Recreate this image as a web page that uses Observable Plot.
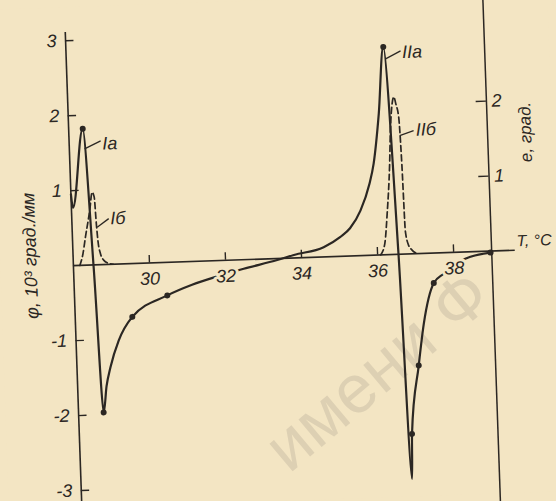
<!DOCTYPE html>
<html>
<head>
<meta charset="utf-8">
<script src="https://cdn.jsdelivr.net/npm/d3@7"></script>
<script src="https://cdn.jsdelivr.net/npm/@observablehq/plot@0.6"></script>
<style>
  html, body { margin: 0; padding: 0; background: #f3e5c3; overflow: hidden; }
  #chart svg { display: block; transform: rotate(-2deg); transform-origin: 278px 250px; }
</style>
</head>
<body>
<div id="chart"></div>
<script>
// ---- Data ----
// Solid curve (Ia → IIa): temperature T, °C and φ, 10^3 град./мм
const solidT   = [28.00, 28.04, 28.37, 28.53, 28.66, 28.76, 28.88, 29.12, 29.50, 30.44, 31.10, 31.77, 32.47, 33.36, 33.80, 34.59, 35.04, 35.30, 35.59, 35.85, 35.98, 36.16, 36.34, 36.55, 36.70, 36.74, 36.98, 37.15, 37.45, 37.72, 38.30, 38.97];
const solidPhi = [0.95, 0.77, 1.82, -0.03, -1.97, -1.62, -1.37, -1.02, -0.71, -0.44, -0.31, -0.21, -0.12, -0.02, 0.04, 0.13, 0.26, 0.37, 0.60, 0.95, 1.22, 1.88, 2.77, 0.00, -3.00, -2.40, -1.49, -0.94, -0.40, -0.28, -0.09, -0.02];
// measured points (dots) on the solid curve
const dotT   = [28.37, 28.66, 29.50, 30.44, 36.34, 36.74, 36.98, 37.45, 38.97];
const dotPhi = [1.82, -1.97, -0.71, -0.44, 2.77, -2.40, -1.49, -0.40, -0.02];
// Dashed curve Iб: T and e, град.
const ibT = [28.17, 28.26, 28.34, 28.48, 28.56, 28.61, 28.64, 28.67, 28.72, 28.80, 28.95, 29.05];
const ibE = [0.00, 0.15, 0.37, 0.73, 0.97, 0.90, 0.55, 0.30, 0.15, 0.06, 0.01, 0.00];
// Dashed curve IIб: T and e, град.
const iibT = [36.08, 36.20, 36.29, 36.40, 36.45, 36.52, 36.57, 36.62, 36.68, 36.72, 36.75, 36.82, 36.91, 37.07];
const iibE = [0.00, 0.15, 0.55, 1.21, 1.65, 2.01, 2.10, 2.00, 1.83, 1.20, 0.31, 0.12, 0.05, 0.00];
// Ticks
const xTicks = [30, 32, 34, 36, 38];
const phiTicks = [-3, -2, -1, 1, 2, 3];
const eTicks = [1, 2];
// Curve labels (anchor in data coords) and leader lines
const curveNames = ["Ia", "Iб", "IIa", "IIб"];
const nameT   = [28.87, 29.01, 36.83, 37.12];
const namePhi = [1.61, 0.61, 2.69, 1.65];
const leadT1 = [28.40, 28.66, 36.39, 36.69];
const leadV1 = [1.55, 0.50, 2.61, 1.58];
const leadT2 = [28.83, 28.97, 36.79, 37.06];
const leadV2 = [1.65, 0.61, 2.71, 1.64];
// Axis titles
const phiTitle = "φ, 10³ град./мм";
const eTitle = "e, град.";
const tTitle = "T, °C";
const stamp = "имени Ф";

// ---- Build tables ----
const paper = "#f3e5c3";
const ink = "#2b2723";
const solid = solidT.map((t, i) => ({T: t, v: solidPhi[i]}));
const dots = dotT.map((t, i) => ({T: t, v: dotPhi[i]}));
const ib = ibT.map((t, i) => ({T: t, v: ibE[i]}));
const iib = iibT.map((t, i) => ({T: t, v: iibE[i]}));
const names = curveNames.map((s, i) => ({s, T: nameT[i], v: namePhi[i]}));
const leads = curveNames.map((s, i) => ({x1: leadT1[i], y1: leadV1[i], x2: leadT2[i], y2: leadV2[i]}));

const font = "Liberation Sans, Arial, sans-serif";

const chart = Plot.plot({
  width: 556,
  height: 501,
  style: {background: paper, overflow: "visible"},
  x: {type: "linear", domain: [28, 39], range: [72.5, 491]},
  y: {type: "linear", domain: [-3, 3], range: [483, 33]},
  axis: null,
  marks: [
    // faint library stamp visible through the scan
    Plot.text([{T: 35.9, v: -1.55, s: stamp}], {x: "T", y: "v", text: "s", rotate: -38, fontSize: 68, fontFamily: font, fill: "#ddd0b3"}),
    // axes
    Plot.ruleX([28], {y1: -3.45, y2: 3.11, stroke: ink, strokeWidth: 1.6}),
    Plot.ruleX([39], {y1: -3.7, y2: 3.7, stroke: ink, strokeWidth: 1.5}),
    Plot.ruleY([0], {x1: 28, x2: 39.62, stroke: ink, strokeWidth: 1.6}),
    Plot.ruleY(phiTicks, {x1: 28, x2: 28.22, stroke: ink, strokeWidth: 1.4}),
    Plot.ruleY(eTicks, {x1: 38.73, x2: 39, stroke: ink, strokeWidth: 1.4}),
    Plot.ruleX(xTicks, {y1: 0, y2: 0.1, stroke: ink, strokeWidth: 1.4}),
    // dashed curves
    Plot.line(ib, {x: "T", y: "v", curve: "monotone-x", stroke: ink, strokeWidth: 1.7, strokeDasharray: "6,3.5"}),
    Plot.line(iib, {x: "T", y: "v", curve: "monotone-x", stroke: ink, strokeWidth: 1.7, strokeDasharray: "6,3.5"}),
    // solid curve
    Plot.line(solid, {x: "T", y: "v", curve: "monotone-x", stroke: ink, strokeWidth: 2.2}),
    Plot.dot(dots, {x: "T", y: "v", r: 3, fill: ink}),
    // leaders and labels
    Plot.link(leads, {x1: "x1", y1: "y1", x2: "x2", y2: "y2", stroke: ink, strokeWidth: 1.3}),
    Plot.text(names, {x: "T", y: "v", text: "s", textAnchor: "start", fontSize: 18, fontStyle: "italic", fontFamily: font, fill: ink}),
    // tick labels
    Plot.text(xTicks, {x: d => d, y: 0, dy: 16, text: d => String(d), fontSize: 18, fontStyle: "italic", fontFamily: font, fill: ink, stroke: paper, strokeWidth: 6}),
    Plot.text(phiTicks, {x: 28, y: d => d, dx: -9, textAnchor: "end", text: d => String(d), fontSize: 18, fontStyle: "italic", fontFamily: font, fill: ink}),
    Plot.text(eTicks, {x: 39, y: d => d, dx: 5, textAnchor: "start", text: d => String(d), fontSize: 18, fontStyle: "italic", fontFamily: font, fill: ink}),
    // axis titles
    Plot.text([phiTitle], {x: 26.88, y: 0.15, text: d => d, rotate: -90, fontSize: 18, fontStyle: "italic", fontFamily: font, fill: ink}),
    Plot.text([eTitle], {x: 40.0, y: 1.57, text: d => d, rotate: -90, fontSize: 17, fontStyle: "italic", fontFamily: font, fill: ink}),
    Plot.text([tTitle], {x: 39.66, y: 0.12, text: d => d, textAnchor: "start", fontSize: 16, fontStyle: "italic", fontFamily: font, fill: ink})
  ]
});
document.getElementById("chart").appendChild(chart);
</script>
</body>
</html>
